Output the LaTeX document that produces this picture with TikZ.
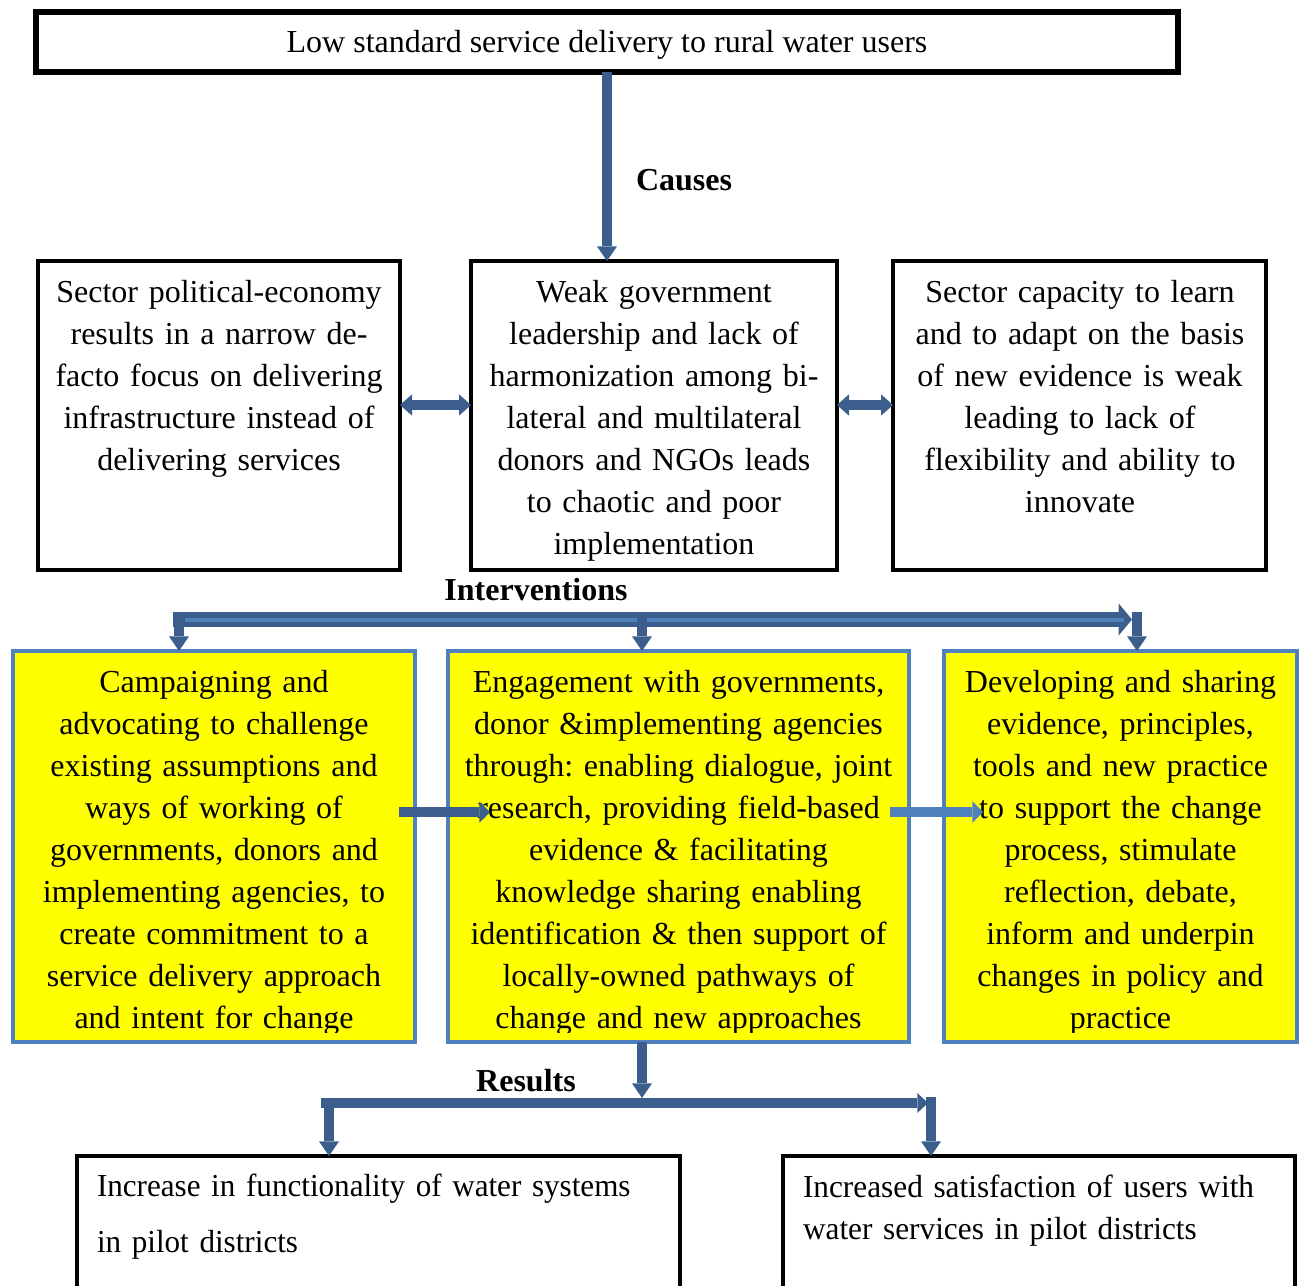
\documentclass[tikz,border=0pt]{standalone}
\usepackage{fontspec}
\setmainfont{Liberation Serif}
\newfontfamily\narrowA[FakeStretch=0.972]{Liberation Serif}
\newfontfamily\narrowB[FakeStretch=0.978]{Liberation Serif}
\usetikzlibrary{arrows.meta}
\definecolor{dkb}{HTML}{3B5E8C}
\definecolor{ltb}{HTML}{4F81BD}
\definecolor{yel}{HTML}{FFFF00}
\frenchspacing
\begin{document}
\begin{tikzpicture}[x=0.75pt,y=-0.75pt,
  every node/.style={inner sep=0pt,outer sep=0pt},
  bbox/.style={draw=black,line width=3pt,rectangle},
  ybox/.style={draw=ltb,fill=yel,line width=2.6pt,rectangle},
  txt/.style={font=\fontsize{24pt}{31.5pt}\selectfont,align=center,anchor=base},
  lbl/.style={font=\fontsize{24pt}{28pt}\selectfont\bfseries,anchor=base},
  shaft/.style={draw=dkb,line width=7.5pt},
  dkarrow/.style={shaft,-{Triangle[length=11pt,width=15pt,line width=0pt]}},
  dblarrow/.style={shaft,{Triangle[length=9pt,width=16pt,line width=0pt]}-{Triangle[length=9pt,width=16pt,line width=0pt]}},
  ltarrow/.style={draw=ltb,line width=7.5pt,-{Triangle[length=8pt,width=16pt,line width=0pt]}},
]
\clip (0,0) rectangle (1299,1285);

% top box
\node[draw=black,line width=4.5pt,minimum width=1142*0.75pt,minimum height=60*0.75pt] (top) at (607,42) {};
\node[txt] (t0) at (607,52) {Low standard service delivery to rural water users};

% cause boxes
\node[bbox,minimum width=362*0.75pt,minimum height=309*0.75pt] (b1) at (219,415.5) {};
\node[bbox,minimum width=366*0.75pt,minimum height=309*0.75pt] (b2) at (654,415.5) {};
\node[bbox,minimum width=373*0.75pt,minimum height=309*0.75pt] (b3) at (1079.5,415.5) {};

\node[txt,text width=360*0.75pt] (t1) at (219,302) {Sector political-economy\\results in a narrow de-\\facto focus on delivering\\infrastructure instead of\\delivering services};
\node[txt,text width=360*0.75pt] (t2) at (654,302) {Weak government\\leadership and lack of\\harmonization among bi-\\lateral and multilateral\\donors and NGOs leads\\to chaotic and poor\\implementation};
\node[txt,text width=370*0.75pt] (t3) at (1080,302) {Sector capacity to learn\\and to adapt on the basis\\of new evidence is weak\\leading to lack of\\flexibility and ability to\\innovate};

% intervention boxes
\node[ybox,minimum width=402*0.75pt,minimum height=391*0.75pt] (b4) at (214,846.5) {};
\node[ybox,minimum width=461*0.75pt,minimum height=391*0.75pt] (b5) at (678.5,846.5) {};
\node[ybox,minimum width=353*0.75pt,minimum height=391*0.75pt] (b6) at (1120.5,846.5) {};

\begin{scope}
\clip (0,640) rectangle (1299,1032);
\node[txt,text width=400*0.75pt] (t4) at (214,692) {Campaigning and\\advocating to challenge\\existing assumptions and\\ways of working of\\governments, donors and\\implementing agencies, to\\create commitment to a\\service delivery approach\\and intent for change};
\node[txt,text width=455*0.75pt] (t5) at (678.5,692) {Engagement with governments,\\donor \&implementing agencies\\through: enabling dialogue, joint\\research, providing field-based\\evidence \& facilitating\\knowledge sharing enabling\\identification \& then support of\\locally-owned pathways of\\change and new approaches};
\node[txt,text width=350*0.75pt] (t6) at (1120.5,692) {Developing and sharing\\evidence, principles,\\tools and new practice\\to support the change\\process, stimulate\\reflection, debate,\\inform and underpin\\changes in policy and\\practice};
\end{scope}

% result boxes
\node[bbox,minimum width=603*0.75pt,minimum height=144*0.75pt] (b7) at (378.5,1228) {};
\node[bbox,minimum width=512*0.75pt,minimum height=144*0.75pt] (b8) at (1039,1228) {};
\node[txt,align=left,anchor=base west,text width=580*0.75pt,font=\narrowA\fontsize{24pt}{42pt}\selectfont] (t7) at (97,1196) {Increase in functionality of water systems\\in pilot districts};
\node[txt,align=left,anchor=base west,text width=490*0.75pt,font=\narrowB\fontsize{24pt}{31.5pt}\selectfont] (t8) at (803,1197) {Increased satisfaction of users with\\water services in pilot districts};

% labels
\node[lbl] (lc) at (684,190) {Causes};
\node[lbl] (li) at (536,600) {Interventions};
\node[lbl] (lr) at (526,1091) {Results};

% causes arrow
\draw[dkarrow] (top.south) -- (top.south |- b2.north);

% double arrows
\coordinate (dy) at (0,405);
\draw[dblarrow] (b1.east |- dy) -- (b2.west |- dy);
\draw[dblarrow] (b2.east |- dy) -- (b3.west |- dy);

% interventions bar
\coordinate (iL) at (173,619.5);
\coordinate (iR) at (1132,619.5);
\coordinate (iS) at (185,619.5);
\coordinate (iE) at (1124,619.5);
\draw[draw=dkb,line width=11.25pt,-{Triangle[length=10pt,width=24pt,line width=0pt]}] (iL) -- (iR);
\draw[draw=ltb,line width=3pt] (iS) -- (iE);
\coordinate (d1) at (179,612);
\coordinate (d2) at (642,612);
\coordinate (d3) at (1137,612);
\draw[dkarrow] (d1) -- (d1 |- b4.north);
\draw[dkarrow] (d2) -- (d2 |- b5.north);
\draw[dkarrow] (d3) -- (d3 |- b6.north);

% horizontal arrows between intervention boxes
\coordinate (h1) at (399,812);
\coordinate (h2) at (490,812);
\coordinate (h3) at (890,812);
\coordinate (h4) at (983,812);
\draw[shaft,-{Triangle[length=8pt,width=16pt,line width=0pt]}] (h1) -- (h2);
\draw[ltarrow] (h3) -- (h4);

% results
\coordinate (r0) at (642,1098);
\draw[dkarrow] (r0 |- b5.south) -- (r0);
\coordinate (rL) at (321,1103);
\coordinate (rR) at (928,1103);
\draw[shaft,-{Triangle[length=8pt,width=15pt,line width=0pt]}] (rL) -- (rR);
\coordinate (rd1) at (329,1099);
\coordinate (rd2) at (931,1097);
\draw[dkarrow] (rd1) -- (rd1 |- b7.north);
\draw[dkarrow] (rd2) -- (rd2 |- b8.north);
\end{tikzpicture}
\end{document}
